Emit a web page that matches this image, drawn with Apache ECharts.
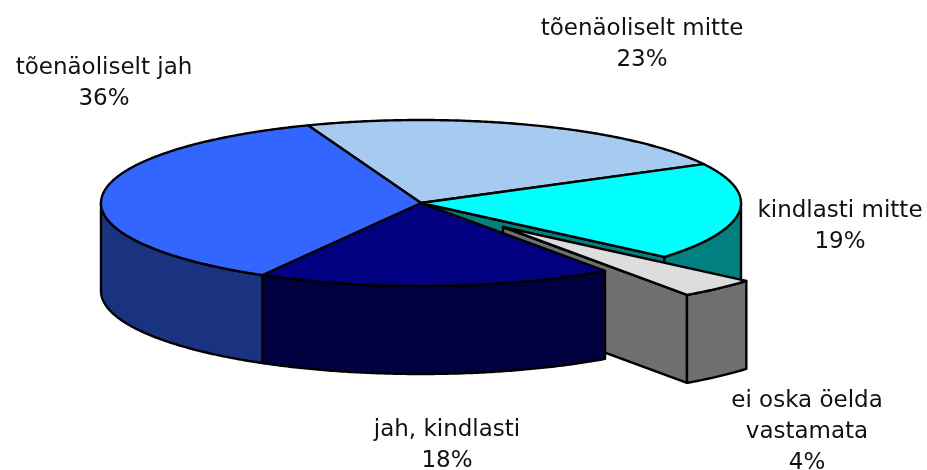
<!DOCTYPE html>
<html>
<head>
<meta charset="utf-8">
<style>html,body{margin:0;padding:0;background:#fff}#c{width:927px;height:470px}</style>
<script src="https://cdn.jsdelivr.net/npm/echarts@6/dist/echarts.min.js"></script>
</head>
<body>
<div id="c"></div>
<script>
// Data, clockwise from the back of the pie
var categories = ['tõenäoliselt mitte', 'kindlasti mitte', 'ei oska öelda\nvastamata', 'jah, kindlasti', 'tõenäoliselt jah'];
var shares = [23, 19, 4, 18, 36];
var explodedSlices = [0, 0, 1, 0, 0];
// Styles
var topColors = ['#a6caf0', '#00ffff', '#dddddd', '#000080', '#3366ff'];
var wallColors = ['#536578', '#008080', '#6f6f6f', '#000040', '#1a3380'];
// Label centres
var labelX = [642, 840, 807, 447, 104];
var labelY = [44.5, 227, 432.5, 446, 84];

var CX = 421, CY = 203, RX = 320, RY = 83, DEPTH = 88;
var START = -110.7, EX = 82, EY = 24;
var total = shares.reduce(function (a, b) { return a + b; }, 0);

function pt(t, ox, oy, dz) {
  var r = t * Math.PI / 180;
  return [CX + ox + RX * Math.cos(r), CY + oy + RY * Math.sin(r) + (dz || 0)];
}
function arc(a, b, ox, oy, dz) {
  var out = [], n = Math.max(2, Math.ceil(Math.abs(b - a) * 2));
  for (var i = 0; i <= n; i++) out.push(pt(a + (b - a) * i / n, ox, oy, dz));
  return out;
}
function poly(points, fill) {
  return {
    type: 'polygon',
    shape: { points: points },
    style: { fill: fill, stroke: '#000', lineWidth: 2.4, lineJoin: 'round' }
  };
}

var option = {
  animation: false,
  backgroundColor: '#fff',
  series: [{
    type: 'custom',
    coordinateSystem: 'none',
    silent: true,
    data: shares.map(function (v, i) { return { value: [v, explodedSlices[i]], name: categories[i] }; }),
    renderItem: function (params, api) {
      var i = params.dataIndex;
      var before = 0;
      for (var k = 0; k < i; k++) before += shares[k];
      var a = START + before / total * 360;
      var b = a + api.value(0) / total * 360;
      var ox = api.value(1) ? EX : 0, oy = api.value(1) ? EY : 0;
      var apex = [CX + ox, CY + oy];
      var children = [];
      // Front wall: the part of the rim facing the viewer (0..180 degrees)
      var w0 = Math.max(a, 0), w1 = Math.min(b, 180);
      // Cut face at the clockwise end, seen when that end is on the front right
      if (b > 0 && b < 90) {
        var e = pt(b, ox, oy);
        children.push(poly([apex, e, [e[0], e[1] + DEPTH], [apex[0], apex[1] + DEPTH]], wallColors[i]));
      }
      if (w1 > w0) {
        var upper = arc(w0, w1, ox, oy, 0);
        var lower = arc(w1, w0, ox, oy, DEPTH);
        children.push(poly(upper.concat(lower), wallColors[i]));
      }
      // Top face
      children.push(poly([apex].concat(arc(a, b, ox, oy, 0)), topColors[i]));
      // Label
      children.push({
        type: 'text',
        z2: 10,
        style: {
          x: labelX[i], y: labelY[i],
          text: categories[i] + '\n' + api.value(0) + '%',
          fill: '#111',
          font: '23px "DejaVu Sans"',
          lineHeight: 31,
          align: 'center',
          verticalAlign: 'middle'
        }
      });
      return { type: 'group', children: children };
    }
  }]
};
echarts.init(document.getElementById('c'), null, { renderer: 'canvas' }).setOption(option);
</script>
</body>
</html>
